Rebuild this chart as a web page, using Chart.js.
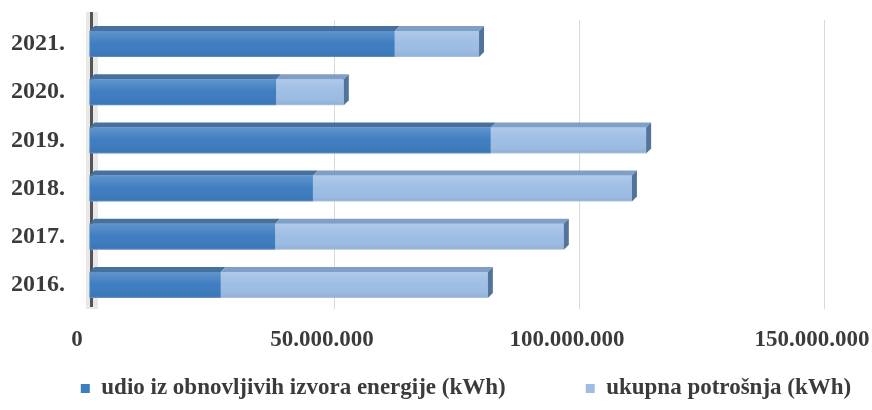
<!DOCTYPE html>
<html>
<head>
<meta charset="utf-8">
<script src="https://cdn.jsdelivr.net/npm/chart.js@4.4.1/dist/chart.umd.min.js"></script>
<style>
  html, body { margin: 0; padding: 0; background: #fff; }
  #wrap { width: 872px; height: 410px; }
</style>
</head>
<body>
<div id="wrap"><canvas id="chart"></canvas></div>
<script>
const years = ['2016.', '2017.', '2018.', '2019.', '2020.', '2021.'];
// udio iz obnovljivih izvora energije (kWh)
const renewable = [26900000, 38000000, 45700000, 82000000, 38200000, 62400000];
// ukupna potrošnja (kWh), stacked on top
const consumption = [54500000, 58900000, 65100000, 31700000, 13800000, 17200000];
const xTicks = [0, 50000000, 100000000, 150000000];

const fontFamily = '"Liberation Serif", "Times New Roman", serif';
const textColor = '#3b3b3b';

function fmt(v) {
  return String(v).replace(/\B(?=(\d{3})+(?!\d))/g, '.');
}

// fake 3D: top face, right side face, soft shading and the left wall
const depth3d = {
  id: 'depth3d',
  afterLayout(chart) {
    // legend in the original sits a bit right of centre
    chart.legend.left += 30;
    chart.legend.right += 30;
  },
  beforeDatasetsDraw(chart) {
    const { ctx, chartArea } = chart;
    const x0 = chart.scales.x.getPixelForValue(0);
    ctx.save();
    ctx.fillStyle = '#e8e8e8';
    ctx.fillRect(x0 - 3, chartArea.top - 8, 12, chartArea.bottom - chartArea.top + 8);
    ctx.fillStyle = '#555';
    ctx.fillRect(x0 + 1, chartArea.top - 8, 3, chartArea.bottom - chartArea.top + 6);
    ctx.restore();
  },
  afterDatasetsDraw(chart) {
    const { ctx } = chart;
    const d = 5;
    const tops = ['#46709f', '#7f9fc6'];
    chart.data.datasets.forEach((ds, i) => {
      const meta = chart.getDatasetMeta(i);
      meta.data.forEach(bar => {
        const left = Math.min(bar.x, bar.base);
        const right = Math.max(bar.x, bar.base);
        const top = bar.y - bar.height / 2;
        const bottom = bar.y + bar.height / 2;
        ctx.save();
        const g = ctx.createLinearGradient(0, top, 0, bottom);
        g.addColorStop(0, 'rgba(255,255,255,0.18)');
        g.addColorStop(0.5, 'rgba(255,255,255,0)');
        g.addColorStop(0.9, 'rgba(0,0,0,0.04)');
        g.addColorStop(1, 'rgba(255,255,255,0.25)');
        ctx.fillStyle = g;
        ctx.fillRect(left, top, right - left, bottom - top);
        ctx.fillStyle = tops[i];
        ctx.beginPath();
        ctx.moveTo(left, top);
        ctx.lineTo(left + d, top - d);
        ctx.lineTo(right + d, top - d);
        ctx.lineTo(right, top);
        ctx.closePath();
        ctx.fill();
        if (i === chart.data.datasets.length - 1) {
          ctx.fillStyle = '#52739b';
          ctx.beginPath();
          ctx.moveTo(right, top);
          ctx.lineTo(right + d, top - d);
          ctx.lineTo(right + d, bottom - d);
          ctx.lineTo(right, bottom);
          ctx.closePath();
          ctx.fill();
        }
        ctx.restore();
      });
    });
  }
};

new Chart(document.getElementById('chart'), {
  type: 'bar',
  data: {
    labels: years,
    datasets: [
      {
        label: 'udio iz obnovljivih izvora energije (kWh)',
        data: renewable,
        backgroundColor: '#3e7dc0',
        categoryPercentage: 0.9,
        barPercentage: 0.6
      },
      {
        label: 'ukupna potrošnja (kWh)',
        data: consumption,
        backgroundColor: '#9dbde4',
        categoryPercentage: 0.9,
        barPercentage: 0.6
      }
    ]
  },
  options: {
    indexAxis: 'y',
    responsive: true,
    maintainAspectRatio: false,
    animation: false,
    layout: { padding: { left: 0, top: 20, right: 0, bottom: 0 } },
    scales: {
      x: {
        stacked: true,
        min: 0,
        max: 150000000,
        afterBuildTicks: axis => { axis.ticks = xTicks.map(v => ({ value: v })); },
        afterFit: axis => {
          axis.paddingRight = 48;
          axis.paddingLeft = 0;
          axis.height = 57;
        },
        grid: { color: '#d9d9d9', drawTicks: false },
        border: { display: false },
        ticks: {
          padding: 17,
          labelOffset: -12,
          maxRotation: 0,
          color: textColor,
          font: { family: fontFamily, size: 23, weight: 'bold' },
          callback: v => fmt(v)
        }
      },
      y: {
        stacked: true,
        reverse: true,
        afterFit: axis => {
          axis.width = 89;
          axis.paddingTop = 0;
          axis.paddingBottom = 0;
        },
        grid: { display: false, drawTicks: false },
        border: { display: false },
        ticks: {
          padding: 24,
          color: textColor,
          font: { family: fontFamily, size: 24, weight: 'bold' }
        }
      }
    },
    plugins: {
      legend: {
        position: 'bottom',
        labels: {
          boxWidth: 9,
          boxHeight: 9,
          padding: 11,
          color: textColor,
          font: { family: fontFamily, size: 23, weight: 'bold' },
          generateLabels: chart => {
            const items = Chart.defaults.plugins.legend.labels.generateLabels(chart);
            // widen the gap between the two legend entries
            items[0].text += '\u2003\u2003\u2003';
            return items;
          }
        }
      },
      tooltip: { enabled: false }
    }
  },
  plugins: [depth3d]
});
</script>
</body>
</html>
